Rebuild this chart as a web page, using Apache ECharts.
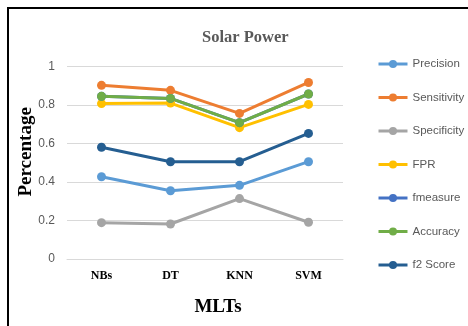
<!DOCTYPE html>
<html>
<head>
<meta charset="utf-8">
<script src="https://cdn.jsdelivr.net/npm/echarts@6/dist/echarts.min.js"></script>
<style>
  html, body { margin: 0; padding: 0; background: #fff; }
  #chart { width: 468px; height: 326px; }
</style>
</head>
<body>
<div id="chart"></div>
<script>
// Classifier metrics on the solar power dataset
const categories = ['NBs', 'DT', 'KNN', 'SVM'];
const precision   = [0.428, 0.355, 0.383, 0.506];
const sensitivity = [0.903, 0.877, 0.757, 0.918];
const specificity = [0.189, 0.182, 0.314, 0.191];
const fpr         = [0.808, 0.811, 0.683, 0.804];
const fmeasure    = [0.846, 0.835, 0.709, 0.858];
const accuracy    = [0.846, 0.835, 0.709, 0.858];
const f2Score     = [0.581, 0.506, 0.506, 0.653];
const yTicks = [0, 0.2, 0.4, 0.6, 0.8, 1];

const seriesDefs = [
  { name: 'Precision',   data: precision,   color: '#5B9BD5' },
  { name: 'Sensitivity', data: sensitivity, color: '#ED7D31' },
  { name: 'Specificity', data: specificity, color: '#A5A5A5' },
  { name: 'FPR',         data: fpr,         color: '#FFC000' },
  { name: 'fmeasure',    data: fmeasure,    color: '#4472C4' },
  { name: 'Accuracy',    data: accuracy,    color: '#70AD47' },
  { name: 'f2 Score',    data: f2Score,     color: '#255E91' }
];

const serif = '"Liberation Serif", "Times New Roman", serif';
const sans = '"Liberation Sans", Arial, sans-serif';

const chart = echarts.init(document.getElementById('chart'), null, { renderer: 'canvas' });
chart.setOption({
  animation: false,
  backgroundColor: '#fff',
  title: {
    text: 'Solar Power',
    left: 197,
    top: 24,
    textStyle: { fontFamily: serif, fontWeight: 'bold', fontSize: 16.5, color: '#595959' }
  },
  legend: {
    orient: 'vertical',
    left: 377,
    top: 57,
    padding: 0,
    itemWidth: 29,
    itemHeight: 10,
    itemGap: 19.5,
    lineStyle: { width: 3 },
    textStyle: { fontFamily: sans, fontSize: 11.5, color: '#595959', lineHeight: 14 },
    data: seriesDefs.map(s => s.name)
  },
  grid: { left: 67, right: 125, top: 66.7, bottom: 67 },
  xAxis: {
    type: 'category',
    data: categories,
    boundaryGap: true,
    axisLine: { show: true, lineStyle: { color: '#D9D9D9', width: 1 } },
    axisTick: { show: false },
    axisLabel: { margin: 11, fontFamily: serif, fontWeight: 'bold', fontSize: 12, color: '#000' },
    name: 'MLTs',
    nameLocation: 'middle',
    nameGap: 39,
    nameMoveOverlap: false,
    nameTextStyle: { fontFamily: serif, fontWeight: 'bold', fontSize: 19, color: '#000', padding: [0, 0, 0, 26] }
  },
  yAxis: {
    type: 'value',
    min: yTicks[0],
    max: yTicks[yTicks.length - 1],
    interval: 0.2,
    axisLine: { show: false },
    axisTick: { show: false },
    splitLine: { lineStyle: { color: '#D9D9D9', width: 1 } },
    axisLabel: { margin: 12, fontFamily: sans, fontSize: 12, color: '#595959',
                 formatter: v => String(Math.round(v * 10) / 10) },
    name: 'Percentage',
    nameLocation: 'middle',
    nameGap: 31,
    nameMoveOverlap: false,
    nameTextStyle: { fontFamily: serif, fontWeight: 'bold', fontSize: 19, color: '#000', padding: [0, 0, 0, 22] }
  },
  graphic: [{
    type: 'rect',
    shape: { x: 8, y: 8, width: 500, height: 400 },
    style: { fill: 'none', stroke: '#000', lineWidth: 2 },
    silent: true
  }],
  series: seriesDefs.map(s => ({
    name: s.name,
    type: 'line',
    data: s.data,
    symbol: 'circle',
    symbolSize: 9,
    itemStyle: { color: s.color },
    lineStyle: { color: s.color, width: 3 }
  }))
});
</script>
</body>
</html>
